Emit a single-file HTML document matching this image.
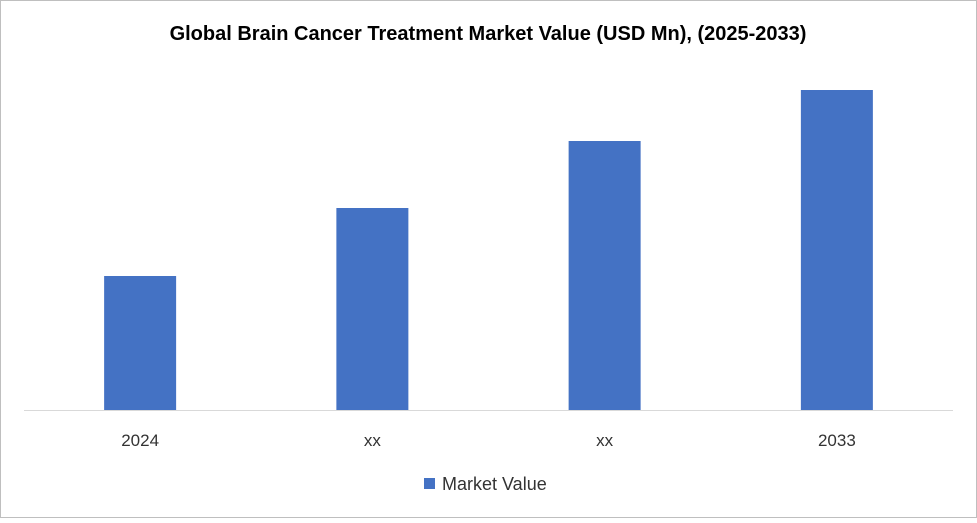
<!DOCTYPE html>
<html><head><meta charset="utf-8"><style>
html,body{margin:0;padding:0;background:#fff;}
body{width:977px;height:518px;overflow:hidden;font-family:"Liberation Sans",Arial,sans-serif;}
</style></head><body>
<svg width="977" height="518" xmlns="http://www.w3.org/2000/svg">
<rect x="0.5" y="0.5" width="976" height="517" fill="#fff" stroke="#bfbfbf"/>
<text x="488" y="40" text-anchor="middle" font-family="Liberation Sans, Arial, sans-serif" font-size="20" font-weight="bold" fill="#000">Global Brain Cancer Treatment Market Value (USD Mn), (2025-2033)</text>
<g id="bars"></g>
<line x1="24" y1="410.5" x2="953" y2="410.5" stroke="#d9d9d9"/>
<g id="labels"></g>
<rect x="424" y="478" width="11" height="11" fill="#4472c4"/>
<text x="442" y="490" font-family="Liberation Sans, Arial, sans-serif" font-size="18" fill="#333">Market Value</text>
</svg>
<script>
const categories = ["2024","xx","xx","2033"];
const values = [134, 202, 269, 320];
const ns="http://www.w3.org/2000/svg";
const plotLeft=24, plotRight=953, baseY=410, maxVal=320, maxPx=320;
const band=(plotRight-plotLeft)/categories.length;
const barW=72;
function xScale(i){return plotLeft+band*(i+0.5);}
function yScale(v){return baseY - v/maxVal*maxPx;}
const bg=document.getElementById('bars'), lg=document.getElementById('labels');
categories.forEach((c,i)=>{
  const r=document.createElementNS(ns,'rect');
  r.setAttribute('x',xScale(i)-barW/2);
  r.setAttribute('y',yScale(values[i]));
  r.setAttribute('width',barW);
  r.setAttribute('height',baseY-yScale(values[i]));
  r.setAttribute('fill','#4472c4');
  
  
  bg.appendChild(r);
  const t=document.createElementNS(ns,'text');
  t.setAttribute('x',xScale(i));
  t.setAttribute('y',446);
  t.setAttribute('text-anchor','middle');
  t.setAttribute('font-family','Liberation Sans, Arial, sans-serif');
  t.setAttribute('font-size','17');
  t.setAttribute('fill','#333');
  t.textContent=c;
  
  
  lg.appendChild(t);
});
</script>
</body></html>
